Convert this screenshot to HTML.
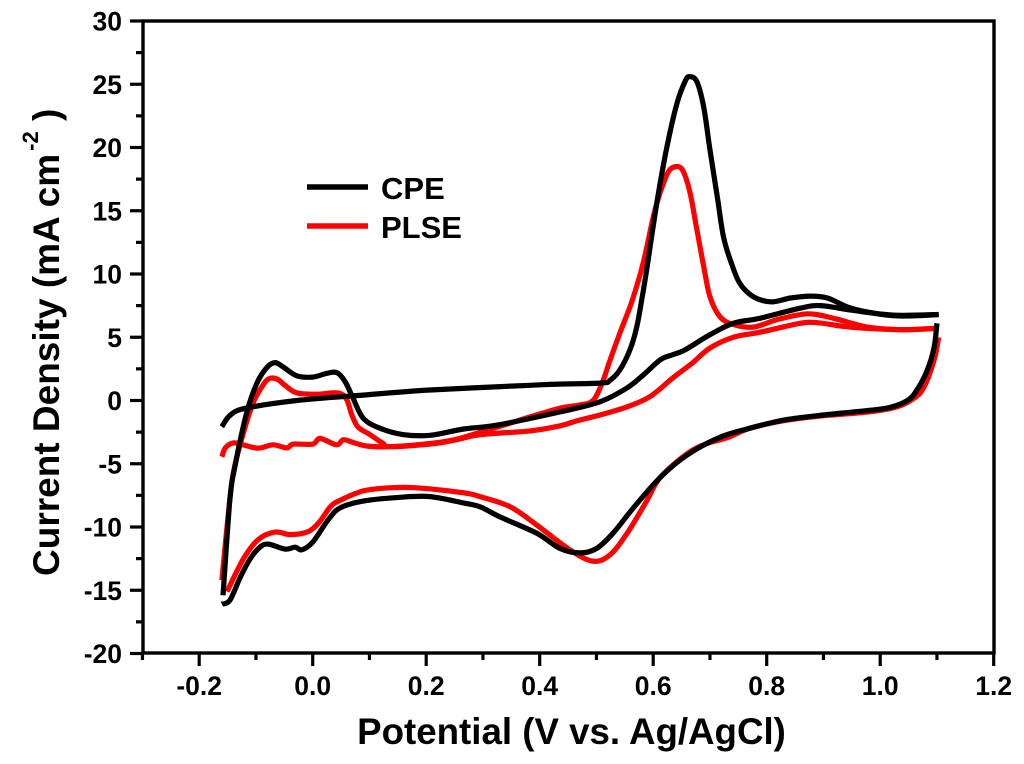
<!DOCTYPE html>
<html>
<head>
<meta charset="utf-8">
<title>Cyclic voltammogram</title>
<style>
html,body{margin:0;padding:0;background:#fff;}
svg{display:block;font-family:"Liberation Sans",sans-serif;font-weight:bold;fill:#000;}
</style>
</head>
<body>
<svg id="chart" width="1024" height="764" viewBox="0 0 1024 764" xmlns="http://www.w3.org/2000/svg">
  <rect x="143" y="21" width="851" height="632" fill="#fff" stroke="#000" stroke-width="3.4"/>
  <g id="ticks"></g>
  <g id="series"></g>
  <g>
    <line x1="307" y1="187" x2="368" y2="187" stroke="#000" stroke-width="5.4"/>
    <text x="381" y="199" font-size="31">CPE</text>
    <line x1="307" y1="226" x2="368" y2="226" stroke="#f00" stroke-width="5.4"/>
    <text x="381" y="238" font-size="31">PLSE</text>
  </g>
  <text x="571.5" y="744" font-size="36.7" text-anchor="middle">Potential (V vs. Ag/AgCl)</text>
  <text transform="translate(59,576) rotate(-90)" font-size="37">Current Density (mA cm<tspan font-size="22" dx="3" dy="-21">-2</tspan><tspan dy="21"> )</tspan></text>
</svg>
<script>
var xMajorTicks = [-0.2, 0.0, 0.2, 0.4, 0.6, 0.8, 1.0, 1.2];
var xMinorTicks = [-0.3, -0.1, 0.1, 0.3, 0.5, 0.7, 0.9, 1.1];
var xTickLabels = ["-0.2", "0.0", "0.2", "0.4", "0.6", "0.8", "1.0", "1.2"];
var yMajorTicks = [-20, -15, -10, -5, 0, 5, 10, 15, 20, 25, 30];
var yMinorTicks = [-17.5, -12.5, -7.5, -2.5, 2.5, 7.5, 12.5, 17.5, 22.5, 27.5];
var yTickLabels = ["-20", "-15", "-10", "-5", "0", "5", "10", "15", "20", "25", "30"];

var plseForwardV = [-0.16,-0.154,-0.14,-0.123,-0.096,-0.07,-0.046,-0.034,0,0.013,0.042,0.054,0.07,0.095,0.136,0.207,0.25,0.3,0.383,0.436,0.471,0.494,0.51,0.524,0.541,0.563,0.583,0.6,0.612,0.627,0.642,0.653,0.665,0.677,0.689,0.70,0.718,0.742,0.777,0.819,0.872,0.918,0.977,1.036,1.098];
var plseForwardI = [-4.45,-3.75,-3.35,-3.5,-3.77,-3.5,-3.75,-3.45,-3.45,-3,-3.5,-3.1,-3.3,-3.6,-3.65,-3.4,-3.1,-2.45,-1.3,-0.6,-0.35,0,1.38,3.2,5.3,7.9,11,14.5,16.4,18.1,18.5,18.1,16.4,13.5,10.6,8.2,6.6,6,5.8,6.4,6.85,6.5,5.8,5.6,5.7];
var plseReverseV = [1.103,1.095,1.077,1.06,1.03,0.98,0.89,0.83,0.77,0.73,0.695,0.66,0.612,0.589,0.554,0.524,0.494,0.453,0.395,0.348,0.295,0.266,0.183,0.136,0.089,0.048,0.031,0.01,-0.01,-0.04,-0.066,-0.096,-0.122,-0.151];
var plseReverseI = [5,3.2,1.05,0.2,-0.5,-0.9,-1.25,-1.6,-2.2,-2.95,-3.4,-4.2,-6.1,-7.9,-10.5,-12.2,-12.7,-11.8,-9.85,-8.4,-7.6,-7.3,-6.9,-6.9,-7.15,-7.9,-8.4,-9.7,-10.4,-10.6,-10.4,-11,-12.5,-15.1];
var plseReturnV = [-0.16,-0.151,-0.14,-0.122,-0.105,-0.09,-0.078,-0.063,-0.049,-0.028,0.007,0.045,0.06,0.069,0.08,0.101,0.124,0.136,0.207,0.254,0.295,0.383,0.436,0.466,0.506,0.554,0.594,0.635,0.67,0.70,0.741,0.788,0.859,0.889,0.948,1.036,1.098];
var plseReturnI = [-14.2,-10,-5.75,-2.55,-0.2,1.05,1.7,1.7,1.2,0.6,0.5,0.6,0.05,-1.15,-2.1,-2.7,-3.4,-3.65,-3.45,-3.1,-2.7,-2.4,-2,-1.6,-1.15,-0.5,0.3,1.8,3,4.15,5,5.4,6.1,6.15,5.8,5.6,5.7];

var cpeForwardV = [-0.16,-0.145,-0.117,-0.028,0.089,0.207,0.383,0.436,0.51,0.524,0.541,0.559,0.571,0.58,0.589,0.607,0.624,0.642,0.657,0.665,0.677,0.689,0.70,0.713,0.724,0.739,0.752,0.77,0.789,0.812,0.842,0.877,0.907,0.942,0.977,1.023,1.065,1.103];
var cpeForwardI = [-2.07,-1.15,-0.6,0,0.43,0.83,1.2,1.3,1.38,1.6,2.4,4,5.8,8,10.5,15.8,20,23.5,25.3,25.6,25.2,23.2,19.8,16.1,12.9,10.7,9.3,8.4,7.95,7.8,8.1,8.25,8.1,7.4,7,6.7,6.7,6.8];
var cpeReverseV = [1.10,1.095,1.083,1.065,1.048,1.012,0.953,0.889,0.83,0.77,0.718,0.66,0.612,0.565,0.529,0.5,0.471,0.436,0.395,0.33,0.295,0.266,0.207,0.154,0.089,0.048,0.027,0,-0.019,-0.031,-0.049,-0.078,-0.093,-0.11,-0.128,-0.146,-0.16];
var cpeReverseI = [6.1,4.2,2.4,0.85,0,-0.6,-0.9,-1.2,-1.55,-2.2,-2.9,-4.3,-6.1,-8.5,-10.5,-11.7,-12.05,-11.7,-10.5,-9.2,-8.4,-8.1,-7.6,-7.65,-7.95,-8.5,-9.45,-11.2,-11.8,-11.6,-11.75,-11.35,-11.6,-12.5,-14,-15.8,-16.1];
var cpeReturnV = [-0.158,-0.146,-0.137,-0.116,-0.098,-0.08,-0.066,-0.052,-0.028,0,0.025,0.043,0.057,0.071,0.089,0.119,0.16,0.207,0.266,0.324,0.436,0.506,0.554,0.582,0.612,0.633,0.656,0.70,0.741,0.788,0.859,0.895,0.948,1.023,1.103];
var cpeReturnI = [-15.4,-7.9,-5.2,-0.9,1.4,2.65,3,2.65,1.95,1.85,2.15,2.2,1.5,0.2,-1.4,-2.2,-2.7,-2.75,-2.25,-1.95,-0.9,-0.1,1,2,3.2,3.6,4,5.2,6.1,6.5,7.3,7.5,7.15,6.75,6.8];

function xScale(v){ return 312.7 + v * 567.5; }
function yScale(i){ return 400.5 - i * 12.65; }
var NS = "http://www.w3.org/2000/svg";
var ticks = document.getElementById("ticks");
var seriesGroup = document.getElementById("series");

function tickLine(x1, y1, x2, y2){
  var l = document.createElementNS(NS, "line");
  l.setAttribute("x1", x1); l.setAttribute("y1", y1);
  l.setAttribute("x2", x2); l.setAttribute("y2", y2);
  l.setAttribute("stroke", "#000"); l.setAttribute("stroke-width", "3.2");
  
  
  ticks.appendChild(l);
}
function tickText(x, y, s, anchor){
  var t = document.createElementNS(NS, "text");
  t.setAttribute("x", x); t.setAttribute("y", y);
  t.setAttribute("font-size", "26.5"); t.setAttribute("text-anchor", anchor);
  t.textContent = s;
  
  
  ticks.appendChild(t);
}
xMajorTicks.forEach(function(v, k){
  tickLine(xScale(v), 653, xScale(v), 666);
  tickText(xScale(v), 695, xTickLabels[k], "middle");
});
xMinorTicks.forEach(function(v){ tickLine(xScale(v), 653, xScale(v), 660); });
yMajorTicks.forEach(function(v, k){
  tickLine(130, yScale(v), 143, yScale(v));
  tickText(122, yScale(v) + 9.5, yTickLabels[k], "end");
});
yMinorTicks.forEach(function(v){ tickLine(136, yScale(v), 143, yScale(v)); });

function smoothPath(vs, is){
  var px = vs.map(xScale), py = is.map(yScale), n = px.length;
  var d = "M" + px[0].toFixed(1) + " " + py[0].toFixed(1);
  for (var k = 0; k < n - 1; k++){
    var a = Math.max(k - 1, 0), b = Math.min(k + 2, n - 1);
    var c1x = px[k] + (px[k + 1] - px[a]) / 6, c1y = py[k] + (py[k + 1] - py[a]) / 6;
    var c2x = px[k + 1] - (px[b] - px[k]) / 6, c2y = py[k + 1] - (py[b] - py[k]) / 6;
    d += "C" + c1x.toFixed(1) + " " + c1y.toFixed(1) + " " + c2x.toFixed(1) + " " + c2y.toFixed(1) + " " + px[k + 1].toFixed(1) + " " + py[k + 1].toFixed(1);
  }
  return d;
}
function drawScan(vs, is, color){
  var p = document.createElementNS(NS, "path");
  p.setAttribute("d", smoothPath(vs, is));
  p.setAttribute("fill", "none");
  p.setAttribute("stroke", color);
  p.setAttribute("stroke-width", "5.2");
  p.setAttribute("stroke-linejoin", "round");
  
  
  seriesGroup.appendChild(p);
}
drawScan(plseForwardV, plseForwardI, "#f00");
drawScan(plseReverseV, plseReverseI, "#f00");
drawScan(plseReturnV, plseReturnI, "#f00");
drawScan(cpeForwardV, cpeForwardI, "#000");
drawScan(cpeReverseV, cpeReverseI, "#000");
drawScan(cpeReturnV, cpeReturnI, "#000");
</script>
</body>
</html>
